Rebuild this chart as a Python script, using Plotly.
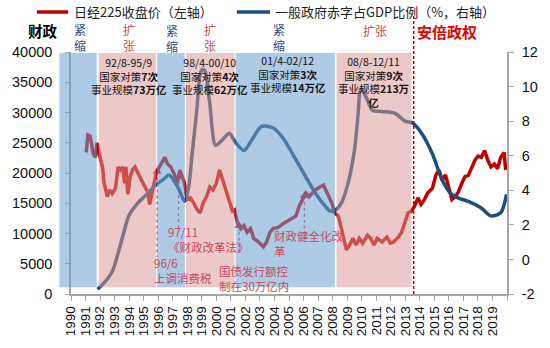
import numpy as np
import plotly.graph_objects as go

# ---------------- data ----------------
nk_years = [1991.05, 1991.16, 1991.32, 1991.45, 1991.54, 1991.68, 1991.79, 1991.95, 1992.17, 1992.28,
            1992.50, 1992.66, 1992.84, 1993.06, 1993.24, 1993.40, 1993.56, 1993.69, 1993.78, 1993.91,
            1994.07, 1994.23, 1994.40, 1994.63, 1994.85, 1995.07, 1995.30, 1995.41, 1995.52, 1995.70,
            1995.86, 1996.08, 1996.31, 1996.46, 1996.64, 1996.87, 1997.09, 1997.32, 1997.49, 1997.65,
            1997.81, 1997.99, 1998.21, 1998.43, 1998.66, 1998.88, 1999.10, 1999.33, 1999.55, 1999.77,
            2000.00, 2000.22, 2000.44, 2000.67, 2000.89, 2001.11, 2001.25, 2001.45, 2001.68, 2001.90,
            2002.12, 2002.35, 2002.57, 2002.91, 2003.24, 2003.46, 2003.69, 2003.91, 2004.25, 2004.70,
            2005.14, 2005.48, 2005.70, 2005.93, 2006.15, 2006.38, 2006.80, 2007.13, 2007.38, 2007.47,
            2007.72, 2007.94, 2008.16, 2008.39, 2008.61, 2008.72, 2008.95, 2009.17, 2009.40, 2009.62,
            2009.84, 2010.07, 2010.40, 2010.62, 2010.85, 2011.07, 2011.41, 2011.74, 2011.97, 2012.19,
            2012.52, 2012.75, 2012.97, 2013.19, 2013.42, 2013.64, 2013.87, 2014.09, 2014.32, 2014.54,
            2014.87, 2015.10, 2015.32, 2015.54, 2015.77, 2015.99, 2016.21, 2016.44, 2016.66, 2016.89,
            2017.11, 2017.34, 2017.56, 2017.79, 2018.01, 2018.23, 2018.46, 2018.68, 2018.90, 2019.13,
            2019.35, 2019.57, 2019.80, 2019.91]
nk_close = [23400, 26300, 26100, 24700, 23100, 22600, 25000, 23100, 21000, 18300,
            16100, 17200, 16600, 17500, 21000, 20500, 21000, 18300, 21000, 16500,
            19400, 20500, 21000, 19900, 18800, 17700, 16700, 14800, 16100, 17700,
            19900, 21000, 22100, 22600, 21500, 21000, 19900, 18300, 20500, 19400,
            18300, 15600, 15900, 15100, 14000, 13400, 15100, 16100, 17700, 17200,
            18300, 20500, 18800, 17200, 15600, 13700, 13900, 11800, 10800, 11300,
            10200, 10800, 9200, 8600, 7800, 8600, 10200, 10800, 11000, 11800,
            12400, 12900, 14500, 15600, 16700, 16100, 17200, 17700, 18000, 17500,
            16100, 15100, 13400, 12900, 10800, 9700, 7300, 8100, 9200, 8100,
            9200, 8400, 9700, 9200, 8100, 9200, 8600, 9400, 8400, 8600,
            9400, 10200, 11800, 13400, 13700, 14500, 15900, 14800, 15600, 16700,
            17500, 19600, 20500, 18800, 19700, 17500, 15600, 16100, 16900, 18300,
            19400, 19600, 21000, 22100, 22800, 22600, 23700, 22100, 21000, 21500,
            20700, 22600, 23400, 20500]

def_years = [1991.83, 1992.37, 1992.84, 1993.58, 1993.98, 1994.52, 1995.07, 1995.86, 1996.40, 1996.75,
             1997.40, 1997.81, 1998.10, 1998.32, 1998.66, 1998.88, 1999.05, 1999.22, 1999.55, 1999.95,
             2000.40, 2000.89, 2001.30, 2001.90, 2002.50, 2003.11, 2003.91, 2004.58, 2005.25, 2006.15,
             2006.82, 2007.49, 2007.83, 2008.27, 2008.61, 2009.06, 2009.50, 2009.73, 2009.95, 2010.30,
             2010.74, 2011.41, 2012.30, 2012.97, 2013.53, 2014.20, 2014.87, 2015.54, 2016.11, 2016.66,
             2017.34, 2018.23, 2018.90, 2019.57, 2019.97]
def_ratio = [-1.72, -1.27, -0.70, 1.39, 2.52, 3.19, 3.65, 4.32, 4.66, 4.89,
             4.10, 3.36, 4.2, 6.0, 8.7, 10.7, 11.0, 10.9, 9.0, 6.6,
             6.9, 7.3, 6.8, 6.3, 7.0, 7.7, 7.6, 7.03, 6.1, 4.78,
             3.83, 3.08, 2.8, 2.9, 3.27, 4.4, 6.3, 8.16, 9.86, 9.4,
             8.63, 8.56, 8.45, 8.0, 7.88, 7.2, 6.1, 4.6, 3.83, 3.55,
             3.36, 2.98, 2.52, 2.7, 3.76]

# fiscal policy phases: (kind, start, end)
phase_kind = ["紧缩", "扩张", "紧缩", "扩张", "紧缩", "扩张"]
phase_start = [1989.2, 1991.90, 1995.93, 1997.91, 2001.33, 2008.27]
phase_end = [1991.77, 1995.86, 1997.83, 2001.25, 2008.16, 2013.42]
abe_start = 2013.58

# policy events
event_years = [1995.93, 1997.40, 2001.57, 2006.06]
event_floor = [6100, 10800, 6800, 10800]

year_ticks = list(range(1990, 2021))
year_labels = [str(y) for y in range(1990, 2020)] + [""]
left_ticks = list(range(0, 40001, 5000))
right_ticks = list(range(-2, 13, 2))

# ---------------- figure ----------------
FONT = "Liberation Sans, Arial, sans-serif"
CJK = "Noto Sans CJK SC, sans-serif"
W, H = 550, 348
ML, MR, MT, MB = 68, 35, 52, 48
PW, PH = W - ML - MR, H - MT - MB
X0, X1 = 1990, 2020


def fx(px):
    return (px - ML) / PW


def fy(py):
    return (H - MB - py) / PH


def yx(year):
    return (year - X0) / (X1 - X0)


fig = go.Figure()
fig.add_trace(go.Scatter(x=nk_years, y=nk_close, mode="lines",
                         line=dict(color="#C00000", width=3.5), name="日经225收盘价（左轴）",
                         showlegend=False))
ev_y = np.interp(event_years, nk_years, nk_close)
fig.add_trace(go.Scatter(x=event_years, y=ev_y, mode="markers",
                         marker=dict(symbol="triangle-up", size=8, color="#C00000"),
                         showlegend=False, hoverinfo="skip"))
fig.add_trace(go.Scatter(x=def_years, y=def_ratio, mode="lines", yaxis="y2",
                         line=dict(color="#1F4E79", width=3.5, shape="spline", smoothing=0.8),
                         name="一般政府赤字占GDP比例（%，右轴）", showlegend=False))

shapes = []
for kind, s, e in zip(phase_kind, phase_start, phase_end):
    col = "rgba(108,160,210,0.55)" if kind == "紧缩" else "rgba(219,150,150,0.52)"
    shapes.append(dict(type="rect", xref="paper", yref="paper", x0=yx(s), x1=yx(e),
                       y0=0.028, y1=0.996, fillcolor=col, line=dict(width=0), layer="above"))
for ex, ey, fl in zip(event_years, ev_y, event_floor):
    shapes.append(dict(type="line", xref="x", yref="y", x0=ex, x1=ex, y0=ey, y1=fl,
                       line=dict(color="#C8505A", width=1.3, dash="dot"), layer="below"))
shapes.append(dict(type="line", xref="paper", yref="paper", x0=yx(abe_start), x1=yx(abe_start),
                   y0=0, y1=fy(15), line=dict(color="#C00000", width=1.5, dash="3px,2px"),
                   layer="above"))
# legend samples
shapes.append(dict(type="line", xref="paper", yref="paper", x0=fx(33), x1=fx(65), y0=fy(11), y1=fy(11),
                   line=dict(color="#C00000", width=3.5), layer="above"))
shapes.append(dict(type="line", xref="paper", yref="paper", x0=fx(238), x1=fx(272), y0=fy(11), y1=fy(11),
                   line=dict(color="#1F4E79", width=3.5), layer="above"))

ann = []


def text(t, px, py, size, color="#111111", xanchor="center", family=CJK):
    ann.append(dict(text=t, x=fx(px), y=fy(py), xref="paper", yref="paper", showarrow=False,
                    xanchor=xanchor, yanchor="middle", align=xanchor if xanchor != "center" else "center",
                    borderpad=0, font=dict(size=size, color=color, family=family)))


text("日经225收盘价（左轴）", 70, 11, 13, "#222222", "left")
text("一般政府赤字占GDP比例（%，右轴）", 276, 11, 13, "#222222", "left")
text("<b>财政</b>", 39, 30, 14.5, "#000000")
BLUE_T, RED_T = "#2E4E7E", "#C0504D"
text("紧<br>缩", 77, 37, 12, BLUE_T)
text("扩<br>张", 127, 37, 12, RED_T)
text("紧<br>缩", 172, 38, 12, BLUE_T)
text("扩<br>张", 210, 37, 12, RED_T)
text("紧<br>缩", 281, 37, 12, BLUE_T)
text("扩张", 380, 30, 12, RED_T)
text("<b>安倍政权</b>", 453, 31, 15, "#E00000")

text("92/8-95/9<br>国家对策<b>7次</b><br>事业规模<b>73万亿</b>", 127, 77, 10.5)
text("98/4-00/10<br>国家对策<b>4次</b><br>事业规模<b>62万亿</b>", 210, 77, 10.5)
text("01/4-02/12<br>国家对策<b>3次</b><br>事业规模<b>14万亿</b>", 290, 75, 10.5)
text("08/8-12/11<br>国家对策<b>9次</b><br>事业规模<b>213万</b><br><b>亿</b>", 378, 83, 10.5)

EV = "#C8485A"
text("96/6<br>上调消费税", 152, 276, 11.5, EV, "left")
text("97/11<br>《财政改革法》", 166, 244, 11.5, EV, "left")
text("国债发行额控<br>制在30万亿内", 219, 284, 11.5, EV, "left")
text("财政健全化改<br>革", 275, 248, 11.5, EV, "left")

AX = "#A6A6A6"
fig.update_layout(
    width=W, height=H, margin=dict(l=ML, r=MR, t=MT, b=MB),
    plot_bgcolor="white", paper_bgcolor="white", showlegend=False,
    shapes=shapes, annotations=ann,
    xaxis=dict(range=[X0, X1], tickvals=year_ticks, ticktext=year_labels, tickangle=-90,
               ticks="outside", ticklen=5, tickcolor=AX, showline=True, linecolor=AX, linewidth=1.5,
               showgrid=False, zeroline=False, tickfont=dict(family=FONT, size=13.5, color="#111111")),
    yaxis=dict(range=[0, 40000], tickvals=left_ticks, ticktext=[str(v) for v in left_ticks],
               ticks="outside", ticklen=4,
               tickcolor=AX, showline=True, linecolor=AX, linewidth=1.5, showgrid=False, zeroline=False,
               ticklabelstandoff=10, tickfont=dict(family=FONT, size=14.5, color="#111111")),
    yaxis2=dict(range=[-2, 12], tickvals=right_ticks, ticktext=[str(v) for v in right_ticks],
                overlaying="y", side="right",
                ticks="outside", ticklen=5, tickcolor=AX, showline=True, linecolor=AX, linewidth=1.5,
                showgrid=False, zeroline=False, ticklabelstandoff=5,
                tickfont=dict(family=FONT, size=14.5, color="#111111")),
)

fig.write_html("out.html")
